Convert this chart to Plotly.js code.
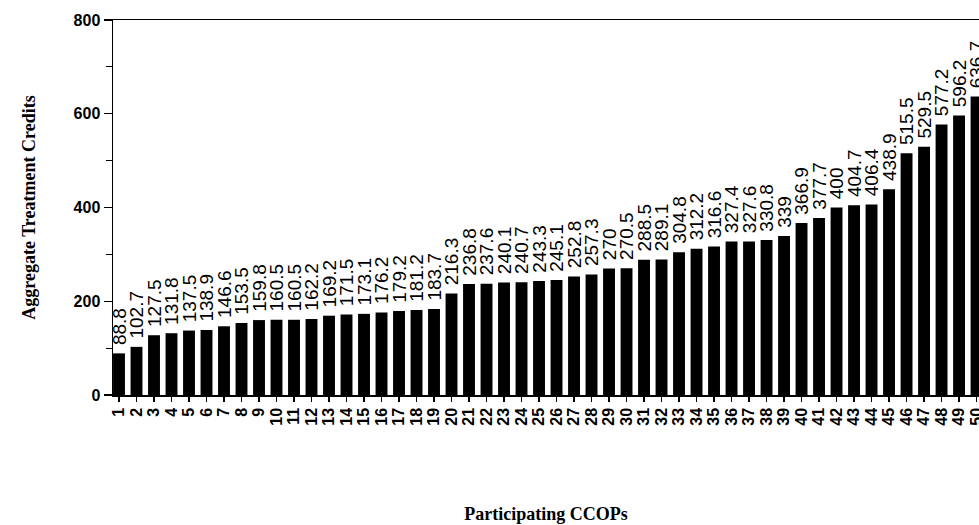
<!DOCTYPE html>
<html>
<head>
<meta charset="utf-8">
<script src="https://cdn.plot.ly/plotly-3.0.1.min.js"></script>
<style>html,body{margin:0;padding:0;background:#fff;}#chart{width:979px;height:525px;}</style>
</head>
<body>
<div id="chart"></div>
<script>
var categories = ['1','2','3','4','5','6','7','8','9','10','11','12','13','14','15','16','17','18','19','20','21','22','23','24','25','26','27','28','29','30','31','32','33','34','35','36','37','38','39','40','41','42','43','44','45','46','47','48','49','50'];
var credits = [88.8,102.7,127.5,131.8,137.5,138.9,146.6,153.5,159.8,160.5,160.5,162.2,169.2,171.5,173.1,176.2,179.2,181.2,183.7,216.3,236.8,237.6,240.1,240.7,243.3,245.1,252.8,257.3,270,270.5,288.5,289.1,304.8,312.2,316.6,327.4,327.6,330.8,339,366.9,377.7,400,404.7,406.4,438.9,515.5,529.5,577.2,596.2,636.7];
var yTicks = [0,200,400,600,800];

var trace = {
  type: 'bar',
  x: categories,
  y: credits,
  text: credits.map(function(v){return String(v);}),
  texttemplate: '\u00a0%{text}',
  textposition: 'outside',
  textangle: -90,
  constraintext: 'none',
  cliponaxis: false,
  textfont: {family: 'Liberation Sans, Arial, sans-serif', size: 19, color: '#000'},
  marker: {color: '#000', line: {width: 0}},
  hoverinfo: 'x+y'
};

var layout = {
  width: 979,
  height: 525,
  margin: {l: 113, r: 0, t: 20, b: 130},
  paper_bgcolor: '#fff',
  plot_bgcolor: '#fff',
  showlegend: false,
  bargap: 0.32,
  font: {family: 'Liberation Sans, Arial, sans-serif', color: '#000'},
  xaxis: {
    type: 'category',
    range: [-0.343, 49.14],
    tickmode: 'array',
    tickvals: categories,
    ticktext: categories,
    showline: true,
    linecolor: '#000',
    linewidth: 1.5,
    mirror: true,
    ticks: 'outside',
    ticklen: 5,
    tickwidth: 1.2,
    tickcolor: '#000',
    tickangle: -90,
    tickfont: {family: 'Liberation Sans, Arial, sans-serif', size: 16, color: '#000', weight: 'bold'},
    showgrid: false,
    zeroline: false,
    automargin: false,
    title: {text: 'Participating CCOPs', standoff: 82, font: {family: 'Liberation Serif, Times New Roman, serif', size: 18, color: '#000', weight: 'bold'}}
  },
  yaxis: {
    range: [0, 800],
    tickvals: yTicks,
    ticktext: yTicks.map(String),
    showline: true,
    linecolor: '#000',
    linewidth: 1.5,
    mirror: false,
    ticks: 'outside',
    ticklen: 8,
    tickwidth: 1.2,
    tickcolor: '#000',
    minor: {dtick: 100, ticks: 'outside', ticklen: 6, tickwidth: 1, tickcolor: '#000', showgrid: false},
    tickfont: {family: 'Liberation Sans, Arial, sans-serif', size: 16, color: '#000', weight: 'bold'},
    showgrid: false,
    zeroline: false,
    automargin: false,
    title: {text: 'Aggregate Treatment Credits', standoff: 33, font: {family: 'Liberation Serif, Times New Roman, serif', size: 18, color: '#000', weight: 'bold'}}
  }
};

Plotly.newPlot('chart', [trace], layout, {displayModeBar: false, staticPlot: true});
</script>
</body>
</html>
